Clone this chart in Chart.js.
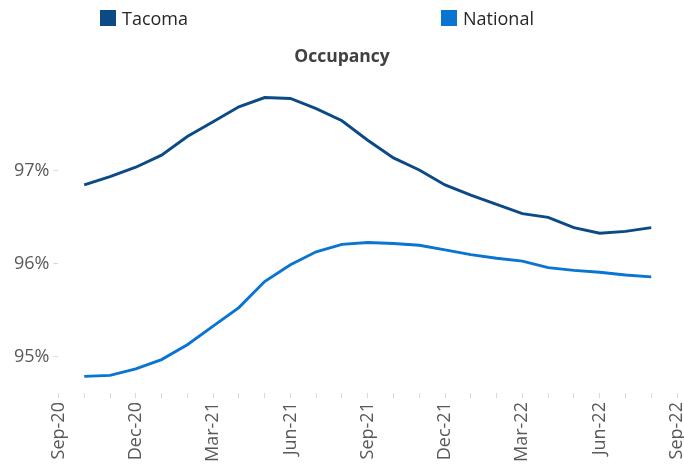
<!DOCTYPE html>
<html>
<head>
<meta charset="utf-8">
<script src="https://cdn.jsdelivr.net/npm/chart.js@4/dist/chart.umd.min.js"></script>
<style>
    body { margin: 0; background: #fff; overflow: hidden; }
    #wrap { position: relative; width: 684px; height: 467px; }
    #legenda { position: absolute; top: 0; left: 0; width: 684px; height: 36px; font-family: "Open Sans", sans-serif; font-size: 18px; color: #262626; }
    .item { position: absolute; top: 6px; display: flex; align-items: center; }
    .item span.caixa { display: inline-block; width: 16px; height: 16px; margin-right: 6px; }
</style>
</head>
<body>
<div id="wrap">
    <div id="legenda"></div>
    <canvas id="grafico" width="684" height="467"></canvas>
</div>
<script>
// months on the axis, Sep-20 .. Sep-22
const meses = ["Sep-20", "Oct-20", "Nov-20", "Dec-20", "Jan-21", "Feb-21", "Mar-21", "Apr-21", "May-21",
    "Jun-21", "Jul-21", "Aug-21", "Sep-21", "Oct-21", "Nov-21", "Dec-21", "Jan-22", "Feb-22", "Mar-22",
    "Apr-22", "May-22", "Jun-22", "Jul-22", "Aug-22", "Sep-22"];

const tacoma = [null, 96.85, 96.94, 97.04, 97.17, 97.37, 97.53, 97.69, 97.79, 97.78, 97.67, 97.54,
    97.33, 97.14, 97.01, 96.85, 96.74, 96.64, 96.54, 96.50, 96.39, 96.33, 96.35, 96.39, null];

const nacional = [null, 94.79, 94.80, 94.87, 94.97, 95.13, 95.33, 95.53, 95.81, 95.99, 96.13, 96.21,
    96.23, 96.22, 96.20, 96.15, 96.10, 96.06, 96.03, 95.96, 95.93, 95.91, 95.88, 95.86, null];

const ticksY = [95, 96, 97];

const nomes = ["Tacoma", "National"];
const cores = ["#0b4a84", "#0a74d1"];
const posLegenda = [100, 441];

document.addEventListener("DOMContentLoaded", function() {
    const legenda = document.getElementById("legenda");
    nomes.forEach(function(nome, i) {
        const item = document.createElement("div");
        item.className = "item";
        item.style.left = posLegenda[i] + "px";
        item.innerHTML = '<span class="caixa" style="background:' + cores[i] + '"></span>' + nome;
        legenda.appendChild(item);
    });

    const ctx = document.getElementById("grafico").getContext("2d");
    new Chart(ctx, {
        type: "line",
        data: {
            labels: meses,
            datasets: [
                { label: nomes[0], data: tacoma, borderColor: cores[0], backgroundColor: cores[0] },
                { label: nomes[1], data: nacional, borderColor: cores[1], backgroundColor: cores[1] }
            ]
        },
        options: {
            responsive: false,
            animation: false,
            layout: { padding: { top: 47, left: 0, right: 0, bottom: 1 } },
            elements: {
                line: { borderWidth: 2.9, tension: 0 },
                point: { radius: 0 }
            },
            plugins: {
                legend: { display: false },
                tooltip: { enabled: false },
                title: {
                    display: true,
                    text: "Occupancy",
                    color: "#404040",
                    font: { family: "Open Sans", size: 17.5, weight: "bold" },
                    padding: { top: 0, bottom: 10 }
                }
            },
            scales: {
                x: {
                    offset: false,
                    border: { display: false },
                    grid: { drawOnChartArea: false, tickLength: 5, color: "#d9d9d9" },
                    ticks: {
                        autoSkip: false,
                        minRotation: 90,
                        maxRotation: 90,
                        padding: 4,
                        color: "#595959",
                        font: { family: "Open Sans", size: 18 },
                        callback: function(v, i) { return i % 3 === 0 ? meses[i] : ""; }
                    },
                    afterFit: function(scale) { scale.paddingRight = 7; scale.paddingLeft = 0; }
                },
                y: {
                    min: 94.61,
                    max: 98.0,
                    border: { display: false },
                    grid: { drawOnChartArea: false, tickLength: 5, color: "#d9d9d9" },
                    afterBuildTicks: function(scale) {
                        scale.ticks = ticksY.map(function(v) { return { value: v }; });
                    },
                    afterFit: function(scale) { scale.width += 10; },
                    ticks: {
                        padding: 4,
                        color: "#595959",
                        font: { family: "Open Sans", size: 18 },
                        callback: function(v) { return v + "%"; }
                    }
                }
            }
        }
    });
});
</script>
</body>
</html>
